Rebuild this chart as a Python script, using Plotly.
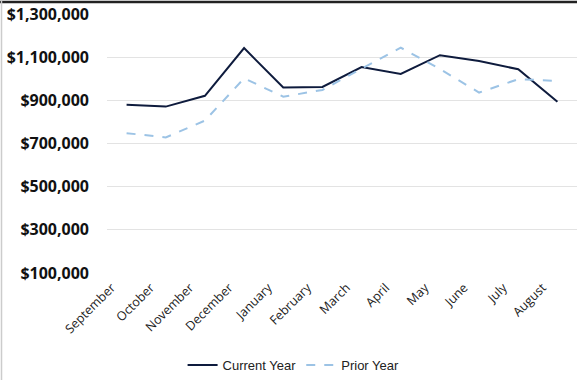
import plotly.graph_objects as go

months = ["September", "October", "November", "December", "January", "February",
          "March", "April", "May", "June", "July", "August"]
current_year = [879000, 871000, 921000, 1142000, 960000, 962000,
                1054000, 1022000, 1109000, 1082000, 1044000, 893000]
prior_year = [748000, 728000, 806000, 1002000, 917000, 948000,
              1047000, 1144000, 1045000, 936000, 998000, 990000]
y_ticks = [100000, 300000, 500000, 700000, 900000, 1100000, 1300000]
y_tick_labels = ["$100,000", "$300,000", "$500,000", "$700,000", "$900,000", "$1,100,000", "$1,300,000"]

fig = go.Figure()
fig.add_trace(go.Scatter(x=months, y=current_year, mode="lines", name="Current Year",
                         line=dict(color="#0e1b3d", width=2)))
fig.add_trace(go.Scatter(x=months, y=prior_year, mode="lines", name="Prior Year",
                         line=dict(color="#9cc3e5", width=2, dash="dash")))

fig.update_layout(
    width=577, height=380,
    margin=dict(l=107, r=0, t=14, b=107),
    paper_bgcolor="white", plot_bgcolor="white",
    xaxis=dict(tickangle=-45, tickfont=dict(family="Open Sans", size=12.5, color="#222"),
               showgrid=False, showline=False, ticks="", range=[-0.5, 11.5],
               automargin=False, ticklabelshift=-15, ticklabelstandoff=4),
    yaxis=dict(range=[100000, 1300000], tickvals=y_ticks, ticktext=y_tick_labels,
               tickfont=dict(family="Open Sans", size=16, color="#111", weight="bold"),
               showgrid=True, gridcolor="#e3e3e3", gridwidth=1, zeroline=False,
               ticklabelstandoff=17, automargin=False),
    legend=dict(orientation="h", x=0.397, xanchor="center", y=-0.355, yanchor="middle",
                font=dict(family="Liberation Sans", size=13, color="#222")),
    shapes=[
        dict(type="line", xref="paper", yref="paper", x0=-0.3, x1=1.0,
             y0=1 + 12 / 259, y1=1 + 12 / 259, line=dict(color="#222", width=2.5)),
        dict(type="line", xref="paper", yref="paper", x0=-105.5 / 470, x1=-105.5 / 470,
             y0=-0.5, y1=1.06, line=dict(color="#cccccc", width=1.5)),
    ],
)

fig.write_html("out.html", config={"displayModeBar": False},
               post_script="document.body.style.margin='0';")
